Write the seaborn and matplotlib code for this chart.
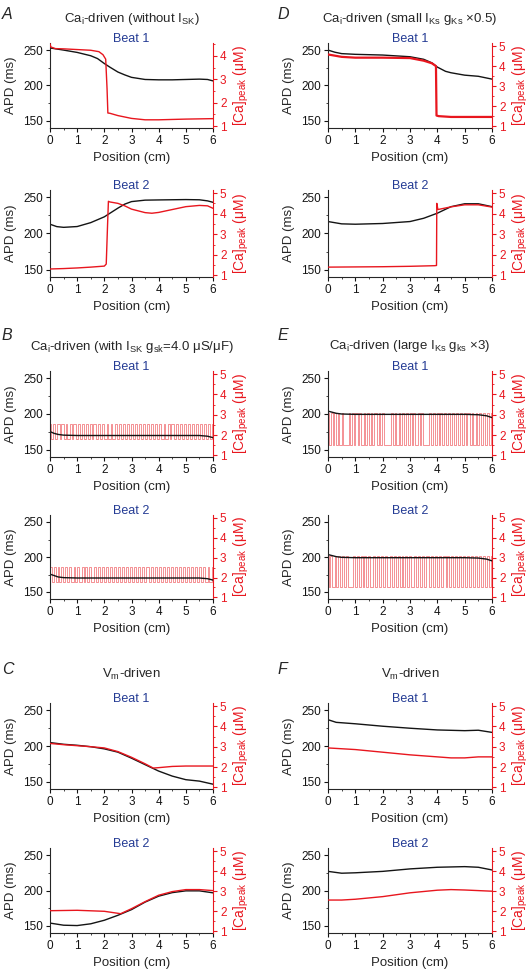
import numpy as np
import pandas as pd
import matplotlib.pyplot as plt
import seaborn as sns
from matplotlib.ticker import MultipleLocator

sns.set_style("ticks")
plt.rcParams["font.family"] = ["Liberation Sans", "DejaVu Sans"]
plt.rcParams["mathtext.fontset"] = "custom"
plt.rcParams["mathtext.rm"] = "Liberation Sans"
plt.rcParams["mathtext.it"] = "Liberation Sans:italic"

RED = "#e8161e"
BLUE = "#243b94"
BLACK = "#141414"

# ---- panel A : Ca_i-driven, without I_SK ----
a1_apd_x = [0, 0.25, 0.5, 1.0, 1.5, 1.75, 2.0, 2.2, 2.5, 2.75, 3.0, 3.5, 4.0, 4.5, 5.0, 5.5, 5.8, 6.0]
a1_apd_y = [253, 251.5, 250, 246.7, 242, 238, 231, 226, 219, 215, 211.5, 208.5, 208, 208, 208.5, 209, 208.5, 206.5]
a1_ca_x = [0, 0.03, 0.2, 0.5, 1.0, 1.5, 1.8, 1.95, 2.05, 2.1, 2.13, 2.2, 2.5, 3.0, 3.5, 4.0, 5.0, 6.0]
a1_ca_y = [4.52, 4.38, 4.31, 4.3, 4.27, 4.24, 4.18, 4.05, 3.86, 2.6, 1.56, 1.55, 1.45, 1.33, 1.27, 1.27, 1.3, 1.32]
a2_apd_x = [0, 0.25, 0.5, 1.0, 1.5, 2.0, 2.5, 2.75, 3.0, 3.5, 4.0, 5.0, 5.5, 5.8, 6.0]
a2_apd_y = [212.8, 209.5, 208.5, 209.6, 215, 223, 235, 240.5, 244, 246, 246.3, 246.8, 246.5, 245, 243]
a2_ca_x = [0, 0.5, 1.0, 1.5, 2.0, 2.07, 2.12, 2.15, 2.2, 2.5, 2.75, 3.0, 3.5, 3.75, 4.0, 4.5, 5.0, 5.5, 5.8, 6.0]
a2_ca_y = [1.31, 1.33, 1.36, 1.4, 1.45, 1.55, 3.5, 4.6, 4.57, 4.5, 4.38, 4.22, 4.05, 4.02, 4.06, 4.2, 4.34, 4.4, 4.38, 4.26]

# ---- panel D : Ca_i-driven, small I_Ks ----
d1_apd_x = [0, 0.25, 0.5, 1.0, 2.0, 3.0, 3.5, 3.8, 4.0, 4.3, 4.5, 5.0, 5.5, 6.0]
d1_apd_y = [250, 247, 245, 244, 243, 240.6, 237, 232, 226, 220, 218, 214.6, 213, 209]
d1_ca_x = [0, 0.5, 1.0, 2.0, 3.0, 3.5, 3.8, 3.95, 3.97, 4.05, 4.5, 5.0, 6.0]
d1_ca_y = [4.58, 4.46, 4.42, 4.42, 4.4, 4.27, 4.14, 4.0, 1.54, 1.51, 1.47, 1.47, 1.47]
d2_apd_x = [0, 0.5, 1.0, 2.0, 3.0, 3.5, 4.0, 4.5, 5.0, 5.5, 6.0]
d2_apd_y = [216.5, 213.3, 212.8, 213.8, 216.5, 221, 228, 237, 241, 241, 237]
d2_ca_x = [0, 1.0, 2.0, 3.0, 3.9, 3.97, 3.98, 4.02, 4.5, 5.0, 5.5, 6.0]
d2_ca_y = [1.4, 1.41, 1.42, 1.44, 1.47, 1.48, 4.5, 4.2, 4.33, 4.43, 4.43, 4.32]

# ---- panel B : Ca_i-driven, with I_SK ----
b1_apd_x = [0, 0.15, 0.3, 0.5, 1.0, 2.0, 3.0, 4.0, 5.0, 5.5, 5.8, 6.0]
b1_apd_y = [175.5, 173, 171.5, 170.5, 170, 170, 170, 170, 170, 170, 169, 167]
b2_apd_x = b1_apd_x
b2_apd_y = [175.5, 173.5, 171.5, 170.5, 170, 170, 170, 170, 170, 170, 169, 167]
b_ca_lo, b_ca_hi = 1.8, 2.55
b1_switch = [0.05, 0.12, 0.2, 0.26, 0.35, 0.41, 0.5, 0.58, 0.63, 0.72, 0.8, 0.86, 0.95, 1.02,
             1.1, 1.18, 1.25, 1.31, 1.4, 1.48, 1.55, 1.6, 1.7, 1.77, 1.85, 1.93, 2.0, 2.08,
             2.15, 2.24, 2.3, 2.38, 2.45, 2.55, 2.6, 2.68, 2.75, 2.84, 2.9, 2.98, 3.05, 3.12,
             3.2, 3.28, 3.35, 3.43, 3.5, 3.57, 3.65, 3.72, 3.8, 3.88, 3.95, 4.02, 4.1, 4.18,
             4.25, 4.33, 4.4, 4.47, 4.55, 4.62, 4.7, 4.78, 4.85, 4.92, 5.0, 5.07, 5.15, 5.22,
             5.3, 5.38, 5.45, 5.52, 5.6, 5.68, 5.75, 5.82, 5.9, 5.96]
b2_switch = [0.06, 0.14, 0.21, 0.28, 0.33, 0.42, 0.49, 0.55, 0.64, 0.7, 0.78, 0.87, 0.93, 1.0,
             1.08, 1.16, 1.24, 1.3, 1.38, 1.45, 1.52, 1.62, 1.68, 1.75, 1.83, 1.9, 1.98, 2.06,
             2.13, 2.2, 2.28, 2.36, 2.43, 2.5, 2.58, 2.66, 2.73, 2.8, 2.88, 2.95, 3.03, 3.1,
             3.18, 3.25, 3.33, 3.4, 3.47, 3.55, 3.63, 3.7, 3.78, 3.85, 3.93, 4.0, 4.08, 4.15,
             4.22, 4.3, 4.38, 4.45, 4.52, 4.6, 4.67, 4.75, 4.83, 4.9, 4.97, 5.05, 5.12, 5.2,
             5.27, 5.35, 5.42, 5.5, 5.57, 5.65, 5.72, 5.8, 5.87, 5.95]

# ---- panel E : Ca_i-driven, large I_Ks ----
e1_apd_x = [0, 0.15, 0.3, 0.5, 1.0, 2.0, 3.0, 4.0, 5.0, 5.5, 5.8, 6.0]
e1_apd_y = [204, 202.5, 201, 200, 199.5, 199.5, 199.5, 199.5, 199.5, 199, 197.5, 195]
e2_apd_x = e1_apd_x
e2_apd_y = [203.5, 202, 200.5, 199.5, 199, 199, 199, 199, 199, 198.5, 197, 194.5]
e_ca_lo, e_ca_hi = 1.5, 3.08
e1_switch = [0.04, 0.1, 0.17, 0.22, 0.3, 0.36, 0.42, 0.5, 0.56, 0.75, 0.8, 0.88, 0.95, 1.0,
             1.08, 1.15, 1.22, 1.3, 1.35, 1.42, 1.5, 1.58, 1.62, 1.7, 1.78, 1.85, 1.9, 1.98,
             2.05, 2.3, 2.36, 2.44, 2.5, 2.58, 2.65, 2.7, 2.78, 2.85, 2.92, 3.0, 3.06, 3.12,
             3.2, 3.28, 3.35, 3.42, 3.48, 3.7, 3.76, 3.84, 3.9, 3.98, 4.05, 4.1, 4.18, 4.25,
             4.32, 4.4, 4.46, 4.52, 4.6, 4.68, 4.75, 4.82, 4.9, 4.96, 5.04, 5.1, 5.18, 5.25,
             5.32, 5.4, 5.46, 5.54, 5.6, 5.68, 5.75, 5.82, 5.9, 5.96]
e2_switch = [0.03, 0.09, 0.15, 0.24, 0.31, 0.38, 0.45, 0.52, 0.6, 0.66, 0.72, 0.9, 0.97, 1.05,
             1.12, 1.2, 1.27, 1.33, 1.4, 1.47, 1.55, 1.63, 1.72, 1.8, 1.86, 1.93, 2.0, 2.1,
             2.17, 2.25, 2.33, 2.4, 2.48, 2.55, 2.62, 2.7, 2.76, 2.83, 2.9, 2.97, 3.05, 3.13,
             3.22, 3.3, 3.37, 3.45, 3.52, 3.6, 3.68, 3.76, 3.83, 3.92, 4.0, 4.07, 4.15, 4.22,
             4.3, 4.36, 4.43, 4.5, 4.58, 4.66, 4.73, 4.8, 4.87, 4.94, 5.02, 5.1, 5.17, 5.24,
             5.3, 5.37, 5.45, 5.52, 5.6, 5.66, 5.73, 5.8, 5.88, 5.95]

# ---- panel C : Vm-driven ----
c1_apd_x = [0, 0.5, 1.0, 1.5, 2.0, 2.5, 3.0, 3.5, 4.0, 4.5, 5.0, 5.5, 6.0]
c1_apd_y = [204.8, 202.4, 201, 199, 196, 191.4, 183, 174, 165, 158, 153, 151, 146.7]
c1_ca_x = [0, 0.5, 1.0, 1.5, 2.0, 2.5, 3.0, 3.5, 3.8, 4.0, 4.5, 5.0, 6.0]
c1_ca_y = [3.16, 3.1, 3.05, 3.0, 2.94, 2.76, 2.48, 2.16, 1.95, 1.97, 2.03, 2.05, 2.05]
c2_apd_x = [0, 0.5, 1.0, 1.5, 2.0, 2.5, 3.0, 3.5, 4.0, 4.5, 5.0, 5.5, 6.0]
c2_apd_y = [154, 151, 150.5, 153, 158, 165, 173, 183.6, 192, 197, 199.5, 199.5, 196.7]
c2_ca_x = [0, 1.0, 2.0, 2.5, 2.6, 3.0, 3.5, 4.0, 4.5, 5.0, 5.5, 6.0]
c2_ca_y = [2.03, 2.05, 2.0, 1.9, 1.88, 2.13, 2.48, 2.8, 2.98, 3.08, 3.08, 3.03]

# ---- panel F : Vm-driven ----
f1_apd_x = [0, 0.3, 1.0, 2.0, 3.0, 4.0, 5.0, 5.5, 6.0]
f1_apd_y = [236.7, 233, 231, 227.6, 224.8, 222.4, 221.4, 222, 219]
f1_ca_x = [0, 0.5, 1.0, 2.0, 3.0, 4.0, 4.5, 5.0, 5.5, 6.0]
f1_ca_y = [2.94, 2.9, 2.86, 2.73, 2.6, 2.5, 2.45, 2.45, 2.5, 2.5]
f2_apd_x = [0, 0.5, 1.0, 2.0, 3.0, 4.0, 5.0, 5.5, 6.0]
f2_apd_y = [227, 224.4, 225, 227, 230.5, 232.8, 233.7, 232.8, 229]
f2_ca_x = [0, 0.5, 1.0, 2.0, 3.0, 4.0, 4.5, 5.0, 6.0]
f2_ca_y = [2.56, 2.56, 2.6, 2.73, 2.92, 3.05, 3.08, 3.06, 3.0]

W, H = 530, 972
COLS = {"L": (50, 213), "R": (328, 492)}
ROWS = [(43, 128), (190, 277), (371, 457), (515, 599), (703, 789), (848, 933)]


def stripe_xy(switches, lo, hi):
    xs, ys = [0.0], [hi]
    level = hi
    for s in switches:
        new = lo if level == hi else hi
        xs += [s, s]
        ys += [level, new]
        level = new
    xs.append(6.0)
    ys.append(level)
    return xs, ys


def make_axes(col, row):
    x0, x1 = COLS[col]
    t, b = ROWS[row]
    return fig.add_axes([x0 / W, 1 - b / H, (x1 - x0) / W, (b - t) / H])


def panel(col, row, apd_x, apd_y, ca_x, ca_y, beat, ca_top=5.15, stripes=False, ca_lw=1.0):
    ax = make_axes(col, row)
    ax2 = ax.twinx()
    sns.lineplot(x=apd_x, y=apd_y, ax=ax, color=BLACK, lw=1.0, estimator=None, sort=False)
    if stripes:
        sns.lineplot(x=ca_x, y=ca_y, ax=ax2, color=RED, lw=0.6, alpha=0.55,
                     estimator=None, sort=False)
        ax.set_zorder(ax2.get_zorder() + 1)
        ax.patch.set_visible(False)
    else:
        sns.lineplot(x=ca_x, y=ca_y, ax=ax2, color=RED, lw=ca_lw, estimator=None, sort=False)

    ax.set_xlim(0, 6)
    ax.set_ylim(140, 260)
    ax2.set_ylim(0.92, ca_top)
    ax.xaxis.set_major_locator(MultipleLocator(1))
    ax.xaxis.set_minor_locator(MultipleLocator(0.5))
    ax.yaxis.set_major_locator(MultipleLocator(50))
    ax.yaxis.set_minor_locator(MultipleLocator(25))
    ax2.yaxis.set_major_locator(MultipleLocator(1))
    ax2.yaxis.set_minor_locator(MultipleLocator(0.5))

    for a in (ax, ax2):
        a.spines["top"].set_visible(False)
        for s in a.spines.values():
            s.set_linewidth(0.8)
    ax.spines["right"].set_visible(False)
    ax2.spines["left"].set_visible(False)
    ax2.spines["bottom"].set_visible(False)
    ax2.spines["right"].set_color(RED)

    ax.tick_params(which="major", length=3, width=0.8, pad=2, labelsize=8.5, colors=BLACK)
    ax.tick_params(which="minor", length=1.6, width=0.6)
    ax2.tick_params(which="major", length=3, width=0.8, pad=2, labelsize=8.5,
                    colors=RED, labelcolor=RED)
    ax2.tick_params(which="minor", length=1.6, width=0.6, colors=RED)

    hpx = ROWS[row][1] - ROWS[row][0]
    wpx = COLS[col][1] - COLS[col][0]
    ax.set_xlabel("Position (cm)", fontsize=9.5)
    ax.xaxis.set_label_coords(0.5, -24 / hpx)
    ax.set_ylabel("APD (ms)", fontsize=9.5)
    ax.yaxis.set_label_coords(-33 / wpx, 0.5)
    ax2.set_ylabel("[Ca]$_{\\mathregular{peak}}$ (μM)", fontsize=10, color=RED)
    ax2.yaxis.set_label_coords(1 + 19 / wpx, 0.5)
    ax.text(0.5, 1.0 + 1.0 / hpx, beat, transform=ax.transAxes, ha="center", va="baseline",
            fontsize=9, color=BLUE)
    return ax


def header(letter, text, col, ytop, ytitle):
    x0, x1 = COLS[col]
    lx = 2 if col == "L" else 278
    fig.text(lx / W, 1 - ytop / H, letter, fontsize=11.5, style="italic",
             ha="left", va="top")
    fig.text((x0 + x1) / 2 / W, 1 - ytitle / H, text, fontsize=9.5,
             ha="center", va="center")


fig = plt.figure(figsize=(W / 100, H / 100), dpi=100)

panel("L", 0, a1_apd_x, a1_apd_y, a1_ca_x, a1_ca_y, "Beat 1", ca_top=4.55)
panel("L", 1, a2_apd_x, a2_apd_y, a2_ca_x, a2_ca_y, "Beat 2")
panel("R", 0, d1_apd_x, d1_apd_y, d1_ca_x, d1_ca_y, "Beat 1", ca_lw=1.6)
panel("R", 1, d2_apd_x, d2_apd_y, d2_ca_x, d2_ca_y, "Beat 2")

bx1, by1 = stripe_xy(b1_switch, b_ca_lo, b_ca_hi)
bx2, by2 = stripe_xy(b2_switch, b_ca_lo, b_ca_hi)
panel("L", 2, b1_apd_x, b1_apd_y, bx1, by1, "Beat 1", stripes=True)
panel("L", 3, b2_apd_x, b2_apd_y, bx2, by2, "Beat 2", stripes=True)
ex1, ey1 = stripe_xy(e1_switch, e_ca_lo, e_ca_hi)
ex2, ey2 = stripe_xy(e2_switch, e_ca_lo, e_ca_hi)
panel("R", 2, e1_apd_x, e1_apd_y, ex1, ey1, "Beat 1", stripes=True)
panel("R", 3, e2_apd_x, e2_apd_y, ex2, ey2, "Beat 2", stripes=True)

panel("L", 4, c1_apd_x, c1_apd_y, c1_ca_x, c1_ca_y, "Beat 1")
panel("L", 5, c2_apd_x, c2_apd_y, c2_ca_x, c2_ca_y, "Beat 2")
panel("R", 4, f1_apd_x, f1_apd_y, f1_ca_x, f1_ca_y, "Beat 1")
panel("R", 5, f2_apd_x, f2_apd_y, f2_ca_x, f2_ca_y, "Beat 2")

header("A", "Ca$_{\\mathregular{i}}$-driven (without I$_{\\mathregular{SK}}$)", "L", 7, 19)
header("D", "Ca$_{\\mathregular{i}}$-driven (small I$_{\\mathregular{Ks}}$ g$_{\\mathregular{Ks}}$ ×0.5)", "R", 7, 19)
header("B", "Ca$_{\\mathregular{i}}$-driven (with I$_{\\mathregular{SK}}$ g$_{\\mathregular{sk}}$=4.0 μS/μF)", "L", 328, 347)
header("E", "Ca$_{\\mathregular{i}}$-driven (large I$_{\\mathregular{Ks}}$ g$_{\\mathregular{ks}}$ ×3)", "R", 328, 346)
header("C", "V$_{\\mathregular{m}}$-driven", "L", 662, 674)
header("F", "V$_{\\mathregular{m}}$-driven", "R", 662, 674)

fig.savefig("out.png", dpi=100, facecolor="white")
